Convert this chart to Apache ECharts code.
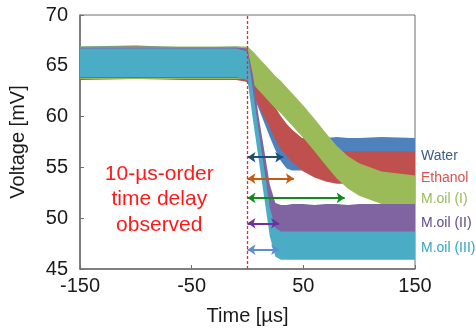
<!DOCTYPE html>
<html>
<head>
<meta charset="utf-8">
<script src="https://cdn.jsdelivr.net/npm/echarts@6/dist/echarts.min.js"></script>
<style>
  html, body { margin: 0; padding: 0; background: #fff; }
  #chart { width: 476px; height: 331px; }
</style>
</head>
<body>
<div id="chart"></div>
<script>
// time axis (µs) shared by every trace
const times = [-150, -100, -50, -10, 0, 5, 10, 15, 20, 25, 30, 35, 40, 50, 60, 70, 80, 90, 100, 120, 150];
// centre of each noisy trace (mV)
const water   = [65.3, 65.4, 65.2, 65.3, 65.2, 63.8, 62.4, 61.0, 59.6, 58.3, 57.2, 56.5, 56.3, 56.3, 56.3, 56.3, 56.4, 56.3, 56.3, 56.4, 56.3];
const ethanol = [65.2, 65.3, 65.2, 65.2, 65.0, 63.8, 62.7, 61.6, 60.5, 59.3, 58.4, 57.7, 57.1, 56.2, 55.6, 55.2, 55.0, 55.0, 55.0, 55.0, 55.0];
const oil1    = [65.3, 65.3, 65.3, 65.3, 65.3, 64.8, 64.2, 63.6, 63.0, 62.4, 61.9, 61.3, 60.7, 59.5, 58.2, 56.8, 55.5, 54.5, 53.8, 53.0, 52.6];
const oil2    = [65.3, 65.3, 65.3, 65.3, 65.2, 62.5, 58.5, 55.2, 51.8, 50.0, 49.8, 49.8, 49.9, 49.9, 49.8, 49.9, 49.9, 49.8, 49.9, 49.9, 49.9];
const oil3    = [65.3, 65.3, 65.3, 65.3, 65.0, 61.0, 57.2, 53.4, 49.6, 47.6, 47.3, 47.3, 47.3, 47.3, 47.3, 47.3, 47.3, 47.3, 47.3, 47.3, 47.3];
// half height of the noise band (mV)
const spreads = [1.6, 1.6, 1.6, 1.5, 1.4];

const names = ['Water', 'Ethanol', 'M.oil (I)', 'M.oil (II)', 'M.oil (III)'];
// arrows: level (mV) and end time (µs)
const arrowLevels = [56.0, 53.9, 52.0, 49.5, 46.9];
const arrowEnds = [32, 41.5, 87, 28.3, 28.3];
// right-hand labels level (mV)
const labelLevels = [56.1, 53.9, 51.9, 49.5, 47.1];

const traceColors = ['#4F81BD', '#C0504D', '#9BBB59', '#8064A2', '#4BACC6'];
const arrowColors = ['#1F4E79', '#C55A11', '#108A1E', '#7030A0', '#5B8FD5'];
const labelColors = ['#3A5A8C', '#D9534F', '#9BBB59', '#5F4A8B', '#31A5C0'];
const font = "'Liberation Sans', Arial, sans-serif";

const traces = [water, ethanol, oil1, oil2, oil3];

const chart = echarts.init(document.getElementById('chart'));

const bandSeries = traces.map((mid, k) => ({
    type: 'custom',
    name: names[k],
    data: [[times[0], mid[0]]],
    clip: true,
    silent: true,
    renderItem: (params, api) => {
        const up = times.map((t, i) => api.coord([t, mid[i] + spreads[k]]));
        const dn = times.map((t, i) => api.coord([t, mid[i] - spreads[k]])).reverse();
        return {
            type: 'polygon',
            shape: { points: up.concat(dn) },
            style: { fill: traceColors[k] }
        };
    }
}));

const arrowSeries = {
    type: 'line',
    data: [],
    silent: true,
    markLine: {
        silent: true,
        symbol: ['arrow', 'arrow'],
        symbolSize: [8, 8],
        label: { show: false },
        data: arrowLevels.map((v, k) => [
            { coord: [0, v], lineStyle: { color: arrowColors[k], width: 2, type: 'solid' }, itemStyle: { color: arrowColors[k] } },
            { coord: [arrowEnds[k], v] }
        ])
    }
};

const delayLine = {
    type: 'line',
    data: [],
    silent: true,
    z: 3,
    markLine: {
        silent: true,
        symbol: 'none',
        label: { show: false },
        lineStyle: { color: '#FF2020', width: 1.3, type: [3, 2] },
        itemStyle: { color: '#FF2020' },
        data: [{ xAxis: 0 }]
    }
};

chart.setOption({
    animation: false,
    grid: { left: 78, top: 15, right: 61, bottom: 56, show: true, borderColor: '#6f6f6f', borderWidth: 1 },
    xAxis: {
        type: 'value',
        min: -150, max: 150, interval: 100,
        name: 'Time [µs]',
        nameLocation: 'middle',
        nameGap: 37,
        nameTextStyle: { fontSize: 20, color: '#1a1a1a', fontFamily: font },
        axisLine: { onZero: false, lineStyle: { color: '#6f6f6f', width: 1.5 } },
        axisTick: { inside: true, length: 4, lineStyle: { color: '#6f6f6f' } },
        splitLine: { show: false },
        axisLabel: { fontSize: 20, color: '#1a1a1a', fontFamily: font, margin: 7 }
    },
    yAxis: {
        type: 'value',
        min: 45, max: 70, interval: 5,
        name: 'Voltage [mV]',
        nameLocation: 'middle',
        nameGap: 52,
        nameTextStyle: { fontSize: 20, color: '#1a1a1a', fontFamily: font },
        axisLine: { show: true, onZero: false, lineStyle: { color: '#6f6f6f', width: 1.5 } },
        axisTick: { show: true, inside: true, length: 4, lineStyle: { color: '#6f6f6f' } },
        splitLine: { show: false },
        axisLabel: { fontSize: 20, color: '#1a1a1a', fontFamily: font, margin: 12 }
    },
    series: bandSeries.concat([arrowSeries, delayLine])
});

// text annotations anchored through the axes
const graphics = names.map((n, k) => {
    const p = chart.convertToPixel({ gridIndex: 0 }, [150, labelLevels[k]]);
    return {
        type: 'text', x: p[0] + 6, y: p[1],
        style: { text: n, fontSize: 14, fill: labelColors[k], fontFamily: font, verticalAlign: 'middle' }
    };
});
const noteLines = ['10-µs-order', 'time delay', 'observed'];
const noteLevels = [54.3, 51.9, 49.3];
noteLines.forEach((s, i) => {
    const p = chart.convertToPixel({ gridIndex: 0 }, [-79, noteLevels[i]]);
    graphics.push({
        type: 'text', x: p[0], y: p[1],
        style: { text: s, fontSize: 21, fill: '#FF1A1A', fontFamily: font, align: 'center', verticalAlign: 'middle' }
    });
});
chart.setOption({ graphic: graphics });
</script>
</body>
</html>
